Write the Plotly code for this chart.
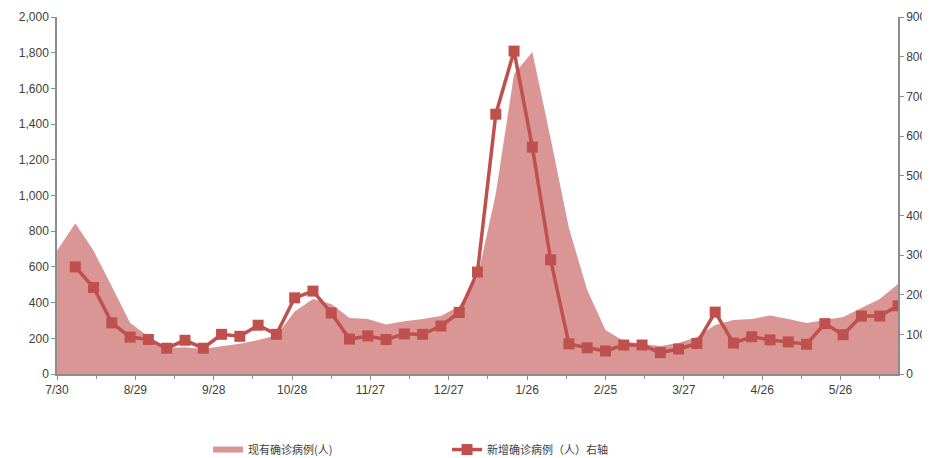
import plotly.graph_objects as go
import pandas as pd

# Weekly dates
area_dates = pd.date_range("2020-07-30", periods=47, freq="7D")
line_dates = area_dates[1:]

# 现有确诊病例 (left axis)
existing_cases = [690, 845, 690, 490, 286, 210, 145, 150, 140, 155, 170, 190, 215, 350,
                  420, 392, 314, 308, 278, 295, 308, 325, 380, 540, 1010, 1680, 1804,
                  1320, 818, 470, 246, 185, 168, 157, 174, 207, 274, 302, 308, 328,
                  308, 286, 302, 319, 370, 420, 504]

# 新增确诊病例 (right axis)
new_cases = [270, 218, 129, 93, 87, 65, 85, 65, 100, 95, 123, 100, 192, 209, 154, 88,
             96, 87, 101, 100, 121, 155, 257, 655, 814, 572, 288, 76, 66, 58, 73, 73,
             54, 63, 77, 156, 78, 94, 86, 81, 75, 127, 99, 146, 146, 172]

x_tick_dates = ["2020-07-30", "2020-08-29", "2020-09-28", "2020-10-28", "2020-11-27",
                "2020-12-27", "2021-01-26", "2021-02-25", "2021-03-27", "2021-04-26",
                "2021-05-26"]
x_tick_labels = ["7/30", "8/29", "9/28", "10/28", "11/27", "12/27", "1/26", "2/25",
                 "3/27", "4/26", "5/26"]

name_area = "现有确诊病例(人)"
name_line = "新增确诊病例（人）右轴"

AXIS = "#8c8c8c"
TXT = "#404040"

fig = go.Figure()
fig.add_trace(go.Scatter(
    x=area_dates, y=existing_cases, name=name_area, mode="none",
    fill="tozeroy", fillcolor="#D99694", yaxis="y"))
fig.add_trace(go.Scatter(
    x=line_dates, y=new_cases, name=name_line, mode="lines+markers",
    line=dict(color="#C0504D", width=3.5),
    marker=dict(symbol="square", size=11, color="#C0504D"),
    yaxis="y2"))

fig.update_layout(
    width=930, height=458,
    margin=dict(l=49, r=40, t=9, b=92, autoexpand=False),
    paper_bgcolor="white", plot_bgcolor="white",
    font=dict(family="Liberation Sans, Arial", size=12, color=TXT),
    showlegend=True,
    legend=dict(orientation="h", x=0.1796, y=-0.171, xanchor="left", yanchor="top",
                entrywidth=194, entrywidthmode="pixels",
                font=dict(family="Noto Sans CJK SC", size=11, color=TXT),
                bgcolor="rgba(0,0,0,0)", traceorder="normal"),
    xaxis=dict(
        type="date", range=["2020-07-30", "2021-06-17"], automargin=False,
        tickmode="array", tickvals=x_tick_dates, ticktext=x_tick_labels,
        showline=True, linecolor=AXIS, linewidth=1.5,
        ticks="outside", ticklen=4, tickcolor=AXIS,
        minor=dict(ticks="outside", ticklen=3, tickcolor=AXIS, tick0="2020-08-14",
                   dtick=30 * 86400000),
        showgrid=False, zeroline=False,
        tickfont=dict(size=12, color=TXT)),
    yaxis=dict(
        range=[0, 2000], dtick=200, tickformat=",", automargin=False,
        showline=True, linecolor=AXIS, linewidth=1.5,
        ticks="outside", ticklen=4, tickcolor=AXIS,
        showgrid=False, zeroline=False,
        tickfont=dict(size=12, color=TXT)),
    yaxis2=dict(
        range=[0, 900], dtick=100, overlaying="y", side="right", anchor="x",
        automargin=False,
        showline=True, linecolor=AXIS, linewidth=1.5,
        ticks="outside", ticklen=4, tickcolor=AXIS,
        showgrid=False, zeroline=False,
        tickfont=dict(size=12, color=TXT)),
)

fig.write_html("out.html")
